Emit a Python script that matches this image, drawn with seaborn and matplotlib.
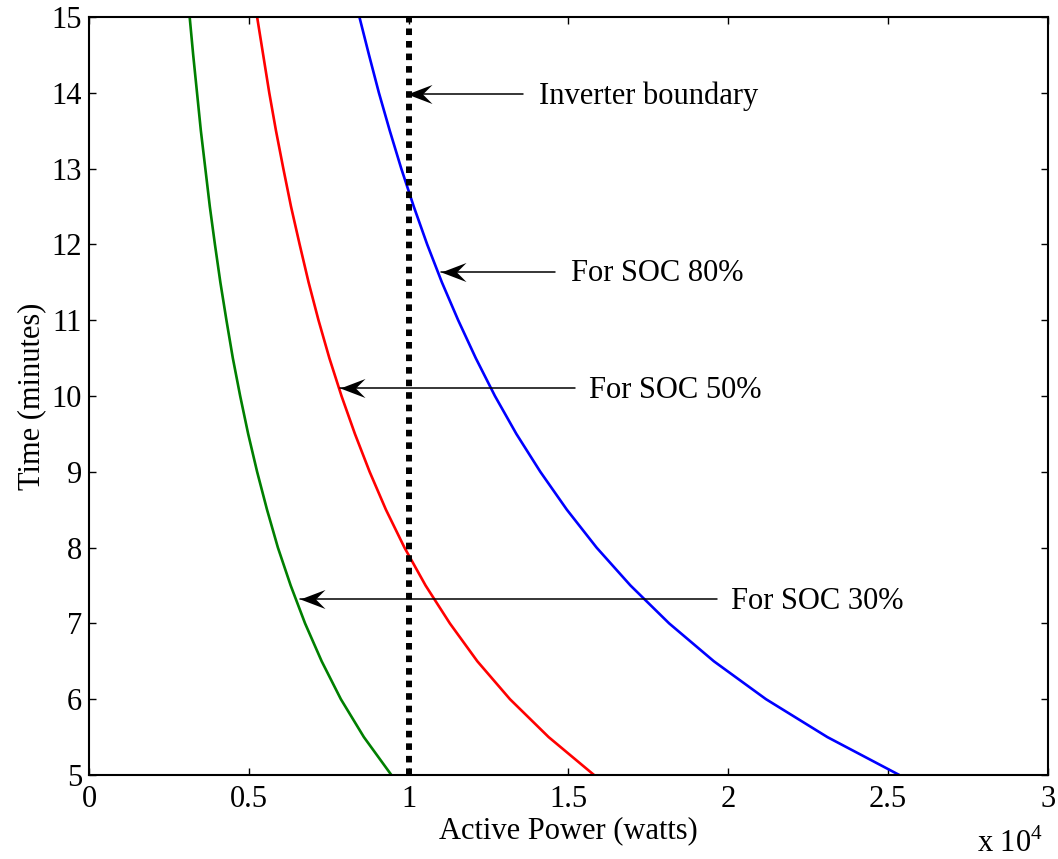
import pandas as pd
import numpy as np
import matplotlib
matplotlib.use("Agg")
import matplotlib.pyplot as plt
import seaborn as sns
from matplotlib.path import Path
from matplotlib.ticker import FuncFormatter, MultipleLocator

# values (power in watts, time in minutes)
time_min = [15, 14.5, 14, 13.5, 13, 12.5, 12, 11.5, 11, 10.5, 10,
            9.5, 9, 8.5, 8, 7.5, 7, 6.5, 6, 5.5, 5]
power_soc30 = [3150, 3260, 3380, 3500, 3640, 3780, 3940, 4110, 4300, 4500, 4730,
               4980, 5260, 5570, 5910, 6310, 6760, 7280, 7880, 8600, 9460]
power_soc50 = [5260, 5450, 5640, 5850, 6080, 6320, 6590, 6870, 7180, 7520, 7900,
               8320, 8780, 9290, 9870, 10530, 11290, 12150, 13170, 14380, 15800]
power_soc80 = [8460, 8760, 9070, 9410, 9770, 10160, 10580, 11040, 11550, 12100, 12700,
               13370, 14120, 14950, 15880, 16940, 18150, 19550, 21180, 23100, 25350]
inverter_limit = 10000
boundary_time = [5, 15]

df = pd.concat([
    pd.DataFrame({'power': power_soc30, 'time': time_min, 'soc': 'SOC 30%'}),
    pd.DataFrame({'power': power_soc50, 'time': time_min, 'soc': 'SOC 50%'}),
    pd.DataFrame({'power': power_soc80, 'time': time_min, 'soc': 'SOC 80%'}),
])

sns.set_style("ticks")
plt.rcParams['font.family'] = ['Liberation Serif', 'DejaVu Serif']
plt.rcParams['mathtext.fontset'] = 'custom'
plt.rcParams['mathtext.rm'] = 'Liberation Serif'
plt.rcParams['font.size'] = 22
plt.rcParams['text.color'] = 'black'
plt.rcParams['axes.labelcolor'] = 'black'

fig = plt.figure(figsize=(10.58, 8.59), dpi=100)
ax = fig.add_axes([0.0841, 0.0978, 0.9064, 0.8824])

sns.lineplot(data=df, x='power', y='time', hue='soc', estimator=None, sort=False,
             palette={'SOC 30%': '#007f00', 'SOC 50%': '#ff0000', 'SOC 80%': '#0000ff'},
             linewidth=1.9, legend=False, ax=ax)

# inverter boundary
ax.plot([inverter_limit, inverter_limit], boundary_time, color='black',
        linewidth=4.3, dashes=(1.1, 1.0), solid_capstyle='butt', dash_capstyle='butt')

ax.set_xlim(0, 30000)
ax.set_ylim(5, 15)
ax.xaxis.set_major_locator(MultipleLocator(5000))
ax.yaxis.set_major_locator(MultipleLocator(1))
ax.xaxis.set_major_formatter(FuncFormatter(lambda v, p: f'{v / 1e4:g}'))
ax.tick_params(direction='in', length=5, width=1, top=True, right=True,
               labelsize=22, colors='black')
ax.tick_params(axis='x', pad=7)
ax.tick_params(axis='y', pad=5)
for s in ax.spines.values():
    s.set_linewidth(1.5)
    s.set_color('black')

ax.set_xlabel('Active Power (watts)', fontsize=22, labelpad=2)
ax.set_ylabel('Time (minutes)', fontsize=22, labelpad=4)
fig.text(0.986, 0.008, r'x 10$^{4}$', ha='right', va='baseline', fontsize=22)

# annotations: thin shaft + swept-back filled head pointing left
head = Path([(0, 0), (21, 8), (13, 0), (21, -8), (0, 0)],
            [Path.MOVETO, Path.LINETO, Path.LINETO, Path.LINETO, Path.CLOSEPOLY])
notes = [('Inverter boundary', 9950, 13570, 13.98, 14080),
         ('For SOC 80%', 11010, 14580, 11.64, 15080),
         ('For SOC 50%', 7850, 15200, 10.1, 15640),
         ('For SOC 30%', 6600, 19640, 7.32, 20080)]
for label, tip_x, tail_x, y, text_x in notes:
    ax.plot([tail_x, tip_x], [y, y], color='black', linewidth=1.1)
    ax.plot([tip_x], [y], marker=head, markersize=36, color='black',
            markeredgewidth=0, linestyle='none')
    ax.text(text_x, y - 0.03, label, ha='left', va='center', fontsize=22)

fig.savefig('out.png', dpi=100)
